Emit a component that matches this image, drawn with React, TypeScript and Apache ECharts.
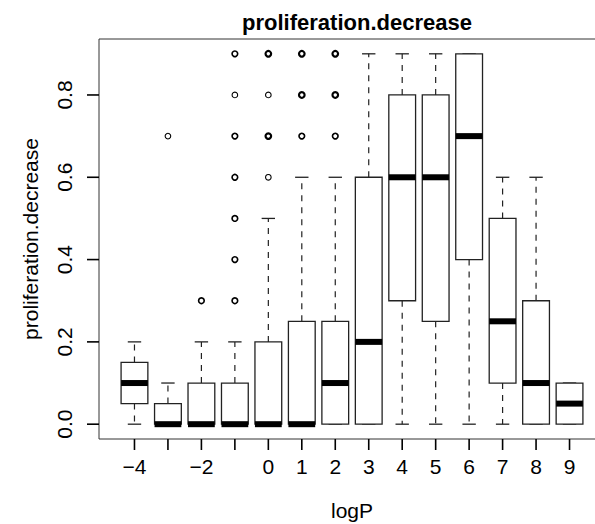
import React, { useEffect, useRef } from "react";
import * as echarts from "echarts";

const logP = [-4, -3, -2, -1, 0, 1, 2, 3, 4, 5, 6, 7, 8, 9];
const whiskerLow = [0, 0, 0, 0, 0, 0, 0, 0, 0, 0, 0, 0, 0, 0];
const q1 = [0.05, 0, 0, 0, 0, 0, 0, 0, 0.3, 0.25, 0.4, 0.1, 0, 0];
const median = [0.1, 0, 0, 0, 0, 0, 0.1, 0.2, 0.6, 0.6, 0.7, 0.25, 0.1, 0.05];
const q3 = [0.15, 0.05, 0.1, 0.1, 0.2, 0.25, 0.25, 0.6, 0.8, 0.8, 0.9, 0.5, 0.3, 0.1];
const whiskerHigh = [0.2, 0.1, 0.2, 0.2, 0.5, 0.6, 0.6, 0.9, 0.9, 0.9, 0.9, 0.6, 0.6, 0.1];

const outlierX = [-3, -2, -1, -1, -1, -1, -1, -1, -1, 0, 0, 0, 0, 1, 1, 1, 2, 2, 2];
const outlierY = [0.7, 0.3, 0.3, 0.4, 0.5, 0.6, 0.7, 0.8, 0.9, 0.6, 0.7, 0.8, 0.9, 0.7, 0.8, 0.9, 0.7, 0.8, 0.9];
const outlierCount = [1, 2, 2, 2, 2, 2, 2, 1, 2, 1, 3, 1, 3, 2, 3, 3, 2, 3, 3];

const xTickLabels = [-4, -2, 0, 1, 2, 3, 4, 5, 6, 7, 8, 9];
const yTicks = [0, 0.2, 0.4, 0.6, 0.8];

const FONT = "'Liberation Sans', Arial, Helvetica, sans-serif";
const INK = "#222";
const X_MIN = -5.06;
const X_MAX = 10.06;
const Y_MIN = -0.036;
const Y_MAX = 0.936;

export default function App() {
  const ref = useRef<HTMLDivElement>(null);

  useEffect(() => {
    if (!ref.current) return;
    const chart = echarts.init(ref.current, null, { renderer: "svg" });

    const boxData = logP.map((x, i) => [x, whiskerLow[i], q1[i], median[i], q3[i], whiskerHigh[i]]);
    const outData = outlierX.map((x, i) => [x, outlierY[i], outlierCount[i]]);

    const renderBox = (params: any, api: any) => {
      const x = api.value(0);
      const wlo = api.value(1);
      const lo = api.value(2);
      const med = api.value(3);
      const hi = api.value(4);
      const whi = api.value(5);
      const c = (a: number, b: number) => api.coord([a, b]);
      const dash = { stroke: INK, lineWidth: 1.2, lineDash: [6, 6], fill: "none" };
      const solid = { stroke: INK, lineWidth: 1.3, fill: "none" };
      const children: any[] = [];
      if (whi > hi) {
        const a = c(x, hi), b = c(x, whi);
        children.push({ type: "line", shape: { x1: a[0], y1: a[1], x2: b[0], y2: b[1] }, style: dash });
      }
      if (wlo < lo) {
        const a = c(x, lo), b = c(x, wlo);
        children.push({ type: "line", shape: { x1: a[0], y1: a[1], x2: b[0], y2: b[1] }, style: dash });
      }
      [whi, wlo].forEach((v) => {
        const a = c(x - 0.2, v), b = c(x + 0.2, v);
        children.push({ type: "line", shape: { x1: a[0], y1: a[1], x2: b[0], y2: b[1] }, style: solid });
      });
      const p1 = c(x - 0.4, hi), p2 = c(x + 0.4, lo);
      children.push({
        type: "rect",
        shape: { x: p1[0], y: p1[1], width: p2[0] - p1[0], height: p2[1] - p1[1] },
        style: { fill: "#fff", stroke: INK, lineWidth: 1.3 },
      });
      const m1 = c(x - 0.4, med), m2 = c(x + 0.4, med);
      children.push({
        type: "line",
        shape: { x1: m1[0], y1: m1[1], x2: m2[0], y2: m2[1] },
        style: { stroke: "#000", lineWidth: 6, lineCap: "butt" },
      });
      return { type: "group", children };
    };

    const renderOutlier = (params: any, api: any) => {
      const p = api.coord([api.value(0), api.value(1)]);
      const n = api.value(2);
      return {
        type: "circle",
        shape: { cx: p[0], cy: p[1], r: 2.8 },
        style: { fill: "none", stroke: "#000", lineWidth: 1.1 + 0.55 * (n - 1) },
      };
    };

    chart.setOption({
      animation: false,
      backgroundColor: "#fff",
      title: {
        text: "proliferation.decrease",
        left: 352,
        top: 6,
        textAlign: "center",
        textStyle: { fontFamily: FONT, fontSize: 22, fontWeight: "bold", color: "#000" },
      },
      grid: {
        left: 99,
        top: 39,
        right: 0,
        bottom: 85,
        show: true,
        borderColor: "#333",
        borderWidth: 1,
        backgroundColor: "transparent",
        outerBoundsMode: "none",
      },
      xAxis: {
        type: "value",
        min: X_MIN,
        max: X_MAX,
        name: "logP",
        nameLocation: "middle",
        nameGap: 61,
        nameTextStyle: { fontFamily: FONT, fontSize: 21, color: "#000" },
        axisLine: { show: false },
        splitLine: { show: false },
        axisTick: { show: false },
        axisLabel: {
          customValues: xTickLabels,
          margin: 17,
          fontFamily: FONT,
          fontSize: 21,
          color: "#000",
          formatter: (v: number) => (v < 0 ? "\u2212" + Math.abs(v) : String(v)),
        },
      },
      yAxis: {
        type: "value",
        min: Y_MIN,
        max: Y_MAX,
        name: "proliferation.decrease",
        nameLocation: "middle",
        nameGap: 58,
        nameTextStyle: { fontFamily: FONT, fontSize: 21, color: "#000" },
        axisLine: { show: false },
        splitLine: { show: false },
        axisTick: { show: false },
        axisLabel: {
          customValues: yTicks,
          rotate: 90,
          margin: 24,
          fontFamily: FONT,
          fontSize: 21,
          color: "#000",
          formatter: (v: number) => v.toFixed(1),
        },
      },
      series: [
        {
          type: "custom",
          renderItem: renderBox,
          data: boxData,
          encode: { x: 0, y: [1, 2, 3, 4, 5] },
          z: 2,
        },
        {
          type: "custom",
          renderItem: renderOutlier,
          data: outData,
          encode: { x: 0, y: 1 },
          z: 3,
        },
      ],
    });

    // Axis ticks, placed through the chart's own scales.
    const ticks: any[] = [];
    logP.forEach((v) => {
      const p = chart.convertToPixel({ gridIndex: 0 }, [v, Y_MIN]) as number[];
      ticks.push({
        type: "line",
        z: 100,
        shape: { x1: p[0], y1: p[1], x2: p[0], y2: p[1] + 11 },
        style: { stroke: "#000", lineWidth: 1.6 },
      });
    });
    yTicks.forEach((v) => {
      const p = chart.convertToPixel({ gridIndex: 0 }, [X_MIN, v]) as number[];
      ticks.push({
        type: "line",
        z: 100,
        shape: { x1: p[0] - 12, y1: p[1], x2: p[0], y2: p[1] },
        style: { stroke: "#000", lineWidth: 1.6 },
      });
    });
    chart.setOption({ graphic: ticks });

    return () => chart.dispose();
  }, []);

  return (
    <div style={{ position: "absolute", left: 0, top: 0, width: 595, height: 524, overflow: "hidden" }}>
      <div ref={ref} style={{ width: 605, height: 524 }} />
    </div>
  );
}
